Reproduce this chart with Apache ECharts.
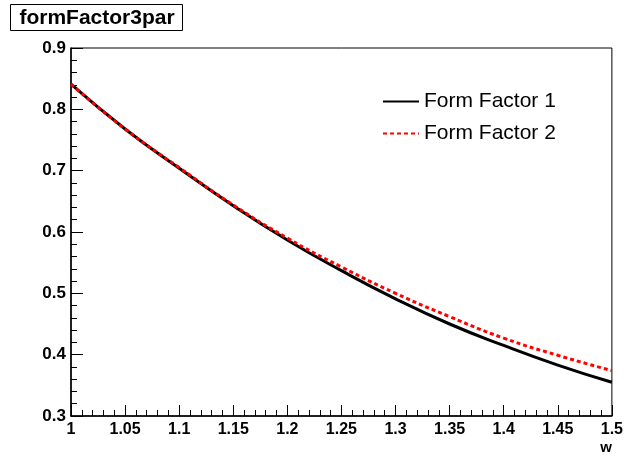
<!DOCTYPE html>
<html><head><meta charset="utf-8">
<script src="https://cdn.jsdelivr.net/npm/echarts@6/dist/echarts.min.js"></script>
<style>html,body{margin:0;padding:0;background:#fff}#c{width:626px;height:459px}</style>
</head><body><div id="c"></div>
<script>
const titleText = "formFactor3par";
const xName = "w";
const wValues = [1.00, 1.05, 1.10, 1.15, 1.20, 1.25, 1.30, 1.35, 1.40, 1.45, 1.50];
const ff1 = [0.841, 0.768, 0.704, 0.643, 0.587, 0.537, 0.491, 0.450, 0.415, 0.383, 0.355];
const ff2 = [0.841, 0.768, 0.705, 0.644, 0.590, 0.543, 0.500, 0.462, 0.427, 0.399, 0.374];
const seriesNames = ["Form Factor 1", "Form Factor 2"];

const pair = (xs, ys) => xs.map((x, i) => [x, ys[i]]);
const font = '"Liberation Sans", Arial, Helvetica, sans-serif';
const chart = echarts.init(document.getElementById('c'), null, {renderer: 'canvas'});
chart.setOption({
  animation: false,
  backgroundColor: '#fff',
  grid: {left: 71, right: 12, top: 48, bottom: 43, show: true, borderColor: '#000', borderWidth: 1, backgroundColor: 'transparent'},
  graphic: [
    {type: 'rect', shape: {x: 10.5, y: 4.5, width: 172, height: 26}, style: {fill: '#fff', stroke: '#000', lineWidth: 1}},
    {type: 'text', x: 97, y: 18, style: {text: titleText, font: 'bold 21px ' + font, fill: '#000', align: 'center', verticalAlign: 'middle'}}
  ],
  legend: {
    orient: 'vertical', left: 377, top: 86, itemWidth: 36, itemHeight: 14, itemGap: 11,
    itemStyle: {color: 'rgba(0,0,0,0)', borderWidth: 0, opacity: 0},
    textStyle: {fontFamily: font, fontSize: 21, color: '#000'},
    data: seriesNames
  },
  xAxis: {
    type: 'value', min: 1, max: 1.5, interval: 0.05,
    name: xName, nameLocation: 'end', nameGap: 0,
    nameTextStyle: {fontFamily: font, fontWeight: 'bold', fontSize: 15, color: '#000', align: 'right', verticalAlign: 'top', padding: [24, 0, 0, 0]},
    axisLine: {lineStyle: {color: '#000', width: 1.5}},
    axisTick: {inside: true, length: 11, lineStyle: {color: '#000'}},
    minorTick: {show: true, splitNumber: 5, length: 6, lineStyle: {color: '#000'}},
    splitLine: {show: false},
    axisLabel: {fontFamily: font, fontWeight: 'bold', fontSize: 16, color: '#000', margin: 6}
  },
  yAxis: {
    type: 'value', min: 0.3, max: 0.9, interval: 0.1,
    axisLine: {show: true, lineStyle: {color: '#000', width: 1.5}},
    axisTick: {show: true, inside: true, length: 12, lineStyle: {color: '#000'}},
    minorTick: {show: true, splitNumber: 5, length: 6, lineStyle: {color: '#000'}},
    splitLine: {show: false},
    axisLabel: {fontFamily: font, fontWeight: 'bold', fontSize: 17, color: '#000', margin: 5}
  },
  series: [
    {name: seriesNames[0], type: 'line', smooth: true, showSymbol: false, symbol: 'none',
     data: pair(wValues, ff1), lineStyle: {color: '#000', width: 3}, itemStyle: {color: '#000'}, z: 2},
    {name: seriesNames[1], type: 'line', smooth: true, showSymbol: false, symbol: 'none',
     data: pair(wValues, ff2), lineStyle: {color: '#ff0000', width: 3, type: [4, 3]}, itemStyle: {color: '#ff0000'}, z: 3}
  ]
});
</script></body></html>
